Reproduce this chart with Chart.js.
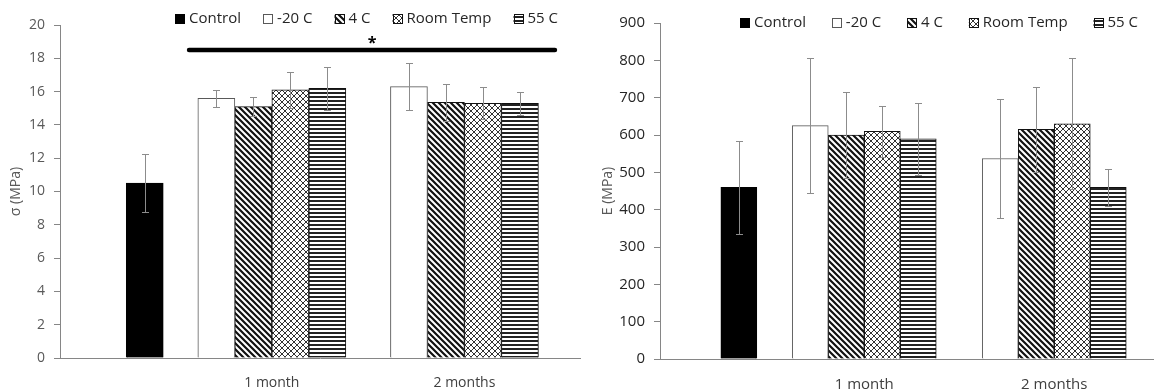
<!DOCTYPE html>
<html>
<head>
<meta charset="utf-8">
<script src="https://cdn.jsdelivr.net/npm/chart.js@4.4.1/dist/chart.umd.min.js"></script>
<style>
  html, body { margin: 0; padding: 0; background: #fff; }
  .wrap { display: flex; width: 1154px; height: 390px; }
  canvas { display: block; }
</style>
</head>
<body>
<div class="wrap">
  <canvas id="strengthChart" width="592" height="390"></canvas>
  <canvas id="modulusChart" width="562" height="390"></canvas>
</div>
<script>
const groups = ["", "1 month", "2 months"];
const seriesNames = ["Control", "-20 C", "4 C", "Room Temp", "55 C"];

// sigma (MPa)
const sigmaControl = [10.5, null, null];
const sigmaMinus20 = [null, 15.6, 16.3];
const sigma4 = [null, 15.1, 15.35];
const sigmaRoom = [null, 16.1, 15.3];
const sigma55 = [null, 16.2, 15.3];
const sigmaErrControl = [1.75, null, null];
const sigmaErrMinus20 = [null, 0.5, 1.4];
const sigmaErr4 = [null, 0.55, 1.1];
const sigmaErrRoom = [null, 1.1, 0.95];
const sigmaErr55 = [null, 1.3, 0.7];
const sigmaTicks = [0, 2, 4, 6, 8, 10, 12, 14, 16, 18, 20];

// E (MPa)
const modControl = [460, null, null];
const modMinus20 = [null, 625, 537];
const mod4 = [null, 600, 615];
const modRoom = [null, 610, 630];
const mod55 = [null, 590, 460];
const modErrControl = [125, null, null];
const modErrMinus20 = [null, 180, 160];
const modErr4 = [null, 116, 114];
const modErrRoom = [null, 68, 175];
const modErr55 = [null, 97, 49];
const modTicks = [0, 100, 200, 300, 400, 500, 600, 700, 800, 900];

// significance bracket over the aged groups (x in group units, y in MPa)
const sigSpan = [0.57, 2.47];
const sigLevel = 18.5;

// where the groups sit on the x scale
const groupPos = [0.34, 1, 2];

const FONT = "'Open Sans', 'Noto Sans', sans-serif";

function makePattern(kind) {
  const size = kind === "stripes" ? 4 : 6;
  const tile = document.createElement("canvas");
  tile.width = size;
  tile.height = size;
  const c = tile.getContext("2d");
  c.fillStyle = "#fff";
  c.fillRect(0, 0, size, size);
  c.strokeStyle = "#111";
  if (kind === "diagonal") {
    c.lineWidth = 2.2;
    c.beginPath();
    c.moveTo(-1, -1); c.lineTo(size + 1, size + 1);
    c.moveTo(-1, size - 1); c.lineTo(1, size + 1);
    c.moveTo(size - 1, -1); c.lineTo(size + 1, 1);
    c.stroke();
  } else if (kind === "cross") {
    c.lineWidth = 1;
    c.strokeStyle = "#333";
    c.beginPath();
    c.moveTo(0, 0); c.lineTo(size, size);
    c.moveTo(size, 0); c.lineTo(0, size);
    c.stroke();
  } else {
    c.fillStyle = "#222";
    c.fillRect(0, 0, size, 2);
  }
  return c.createPattern(tile, "repeat");
}

const seriesStyles = [
  { backgroundColor: "#000", borderColor: "#000" },
  { backgroundColor: "#fff", borderColor: "#595959" },
  { backgroundColor: makePattern("diagonal"), borderColor: "#111" },
  { backgroundColor: makePattern("cross"), borderColor: "#111" },
  { backgroundColor: makePattern("stripes"), borderColor: "#111" }
];

function buildDatasets(values, errors, thickness) {
  return values.map((series, i) => ({
    label: seriesNames[i],
    data: series.map((y, j) => ({ x: groupPos[j], y })),
    errors: errors[i],
    backgroundColor: seriesStyles[i].backgroundColor,
    borderColor: seriesStyles[i].borderColor,
    borderWidth: 1,
    barThickness: thickness,
    skipNull: true
  }));
}

const errorBars = {
  id: "errorBars",
  afterDatasetsDraw(chart) {
    const ctx = chart.ctx;
    const yScale = chart.scales.y;
    ctx.save();
    ctx.strokeStyle = "#8c8c8c";
    ctx.lineWidth = 1;
    chart.data.datasets.forEach((ds, i) => {
      chart.getDatasetMeta(i).data.forEach((bar, j) => {
        const v = ds.data[j].y;
        const e = ds.errors[j];
        if (v == null || e == null) return;
        const x = Math.round(bar.x) + 0.5;
        const top = Math.round(yScale.getPixelForValue(v + e)) + 0.5;
        const bottom = Math.round(yScale.getPixelForValue(v - e)) + 0.5;
        ctx.beginPath();
        ctx.moveTo(x, top); ctx.lineTo(x, bottom);
        ctx.moveTo(x - 3.5, top); ctx.lineTo(x + 3.5, top);
        ctx.moveTo(x - 3.5, bottom); ctx.lineTo(x + 3.5, bottom);
        ctx.stroke();
      });
    });
    ctx.restore();
  }
};

// one-row legend that overlaps the top of the plot, like the original
const legendRow = {
  id: "legendRow",
  afterDraw(chart, args, opts) {
    const ctx = chart.ctx;
    const box = 10;
    const gap = 4;
    ctx.save();
    ctx.font = opts.size + "px " + FONT;
    ctx.textBaseline = "middle";
    const items = chart.data.datasets.map((ds) => ({ ds, w: ctx.measureText(ds.label).width }));
    const used = items.reduce((sum, it) => sum + box + gap + it.w, 0);
    const spacing = (opts.end - opts.start - used) / (items.length - 1);
    let x = opts.start;
    items.forEach(({ ds, w }) => {
      const top = Math.round(opts.y - box / 2);
      ctx.fillStyle = ds.backgroundColor;
      ctx.fillRect(x, top, box, box);
      ctx.strokeStyle = ds.borderColor;
      ctx.lineWidth = 1;
      ctx.strokeRect(Math.round(x) + 0.5, top + 0.5, box - 1, box - 1);
      ctx.fillStyle = "#262626";
      ctx.fillText(ds.label, x + box + gap, opts.y);
      x += box + gap + w + spacing;
    });
    ctx.restore();
  }
};

const significance = {
  id: "significance",
  afterDraw(chart) {
    const ctx = chart.ctx;
    const xScale = chart.scales.x;
    const y = chart.scales.y.getPixelForValue(sigLevel);
    const x1 = xScale.getPixelForValue(sigSpan[0]);
    const x2 = xScale.getPixelForValue(sigSpan[1]);
    ctx.save();
    ctx.strokeStyle = "#000";
    ctx.lineWidth = 4.5;
    ctx.lineCap = "round";
    ctx.beginPath();
    ctx.moveTo(x1, y);
    ctx.lineTo(x2, y);
    ctx.stroke();
    ctx.fillStyle = "#000";
    ctx.font = "bold 16px " + FONT;
    ctx.textAlign = "center";
    ctx.textBaseline = "middle";
    ctx.fillText("*", (x1 + x2) / 2, y - 7);
    ctx.restore();
  }
};

function makeChart(id, cfg) {
  return new Chart(document.getElementById(id), {
    type: "bar",
    data: { datasets: buildDatasets(cfg.values, cfg.errors, cfg.thickness) },
    plugins: cfg.plugins,
    options: {
      responsive: false,
      animation: false,
      events: [],
      layout: { padding: { top: cfg.padTop, right: cfg.padRight, bottom: 0, left: 0 } },
      plugins: {
        legend: { display: false },
        legendRow: cfg.legend,
        tooltip: { enabled: false }
      },
      scales: {
        x: {
          type: "linear",
          offset: false,
          min: cfg.xMin,
          max: cfg.xMax,
          grid: { display: false, drawTicks: false, offset: false },
          border: { display: true, color: "#868686", width: 1 },
          afterBuildTicks: (scale) => {
            scale.ticks = groupPos.map((value) => ({ value }));
          },
          afterFit: (scale) => { scale.height = cfg.xHeight; },
          ticks: {
            autoSkip: false,
            maxRotation: 0,
            padding: cfg.xLabelPad,
            color: "#404040",
            font: { family: FONT, size: cfg.labelSize },
            callback: (value, index) => groups[index]
          }
        },
        y: {
          min: cfg.ticks[0],
          max: cfg.ticks[cfg.ticks.length - 1],
          afterBuildTicks: (scale) => {
            scale.ticks = cfg.ticks.map((value) => ({ value }));
          },
          afterFit: (scale) => { scale.width = cfg.yWidth; },
          grid: { drawOnChartArea: false, drawTicks: true, tickLength: 6, color: "#868686" },
          border: { display: true, color: "#868686", width: 1 },
          ticks: {
            padding: 9,
            color: cfg.tickColor,
            font: { family: FONT, size: cfg.tickSize }
          },
          title: {
            display: true,
            text: cfg.title,
            color: "#595959",
            padding: 8,
            font: { family: FONT, size: 14 }
          }
        }
      }
    }
  });
}

makeChart("strengthChart", {
  values: [sigmaControl, sigmaMinus20, sigma4, sigmaRoom, sigma55],
  errors: [sigmaErrControl, sigmaErrMinus20, sigmaErr4, sigmaErrRoom, sigmaErr55],
  ticks: sigmaTicks,
  title: "σ (MPa)",
  thickness: 37,
  padTop: 25,
  padRight: 12,
  legend: { start: 175, end: 558, y: 19, size: 15 },
  xMin: -0.1,
  xMax: 2.6,
  xHeight: 32,
  xLabelPad: 17,
  yWidth: 60,
  labelSize: 14,
  tickSize: 14,
  tickColor: "#595959",
  plugins: [errorBars, legendRow, significance]
});

makeChart("modulusChart", {
  values: [modControl, modMinus20, mod4, modRoom, mod55],
  errors: [modErrControl, modErrMinus20, modErr4, modErrRoom, modErr55],
  ticks: modTicks,
  title: "E (MPa)",
  thickness: 36,
  padTop: 23,
  padRight: 0,
  legend: { start: 148, end: 546, y: 23, size: 15 },
  xMin: -0.075,
  xMax: 2.525,
  xHeight: 31,
  xLabelPad: 17,
  yWidth: 68,
  labelSize: 15,
  tickSize: 15,
  tickColor: "#262626",
  plugins: [errorBars, legendRow]
});
</script>
</body>
</html>
